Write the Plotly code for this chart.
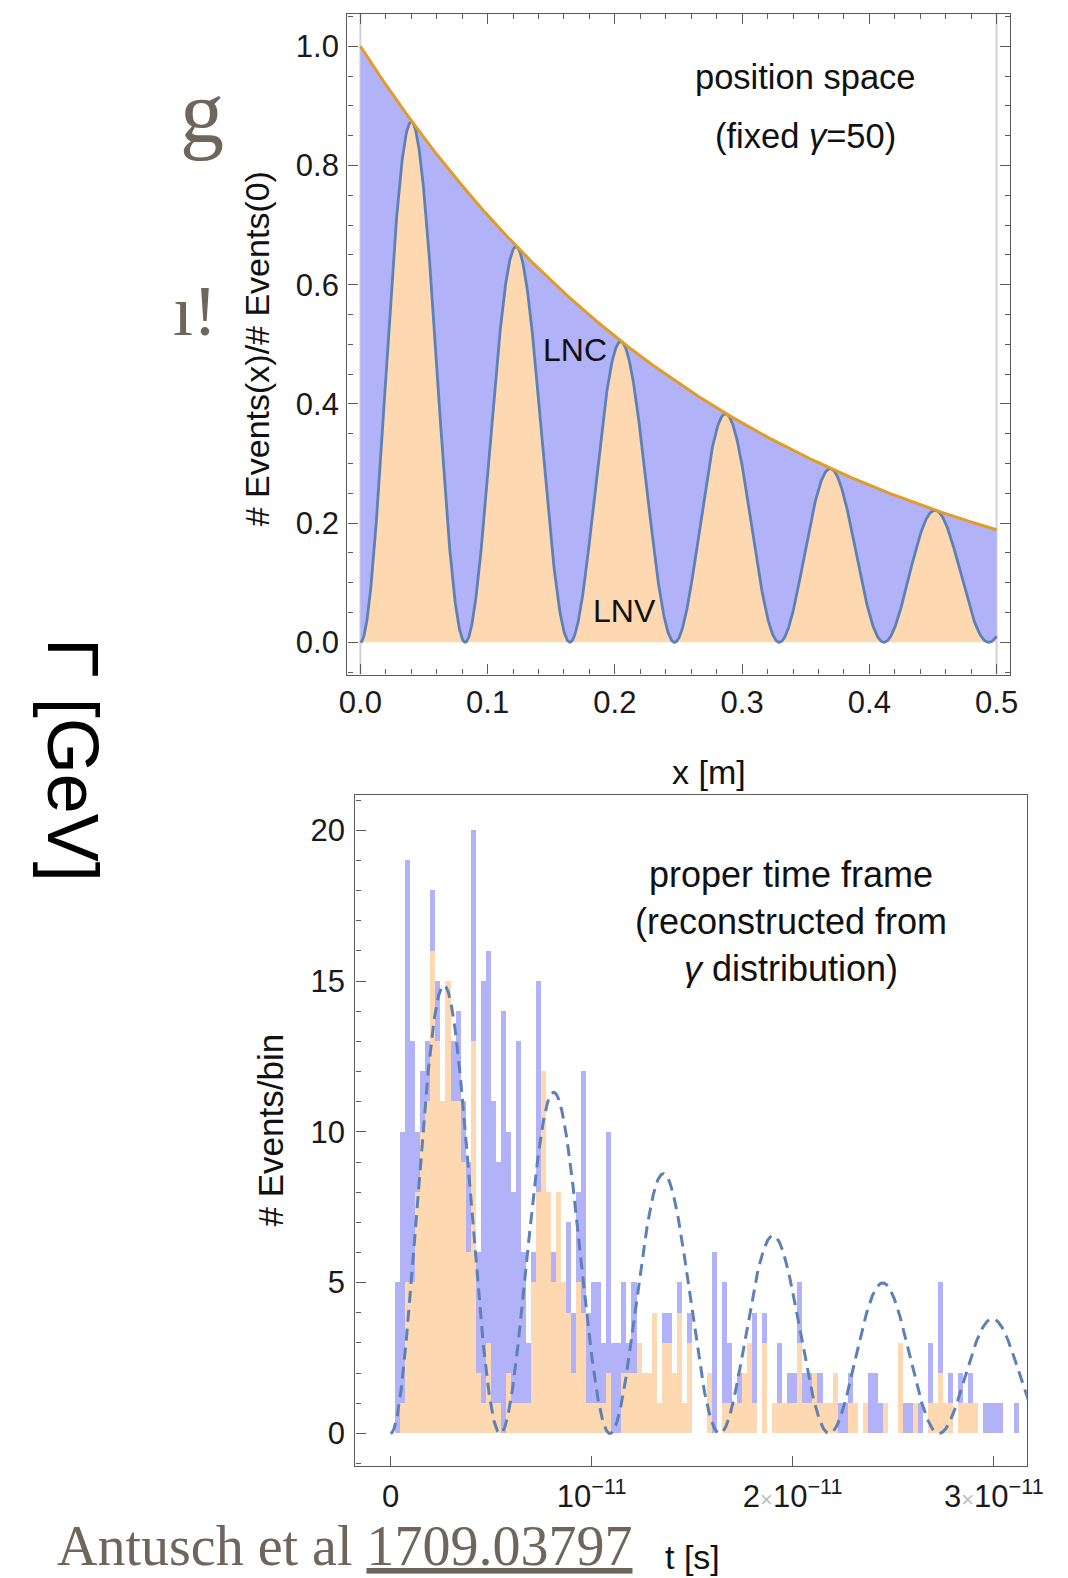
import numpy as np
import plotly.graph_objects as go

W, H = 1068, 1578

# ---------------- position-space panel (fixed gamma = 50) ----------------
pos_norm = 1.0            # # Events(0)
pos_decay_length = 0.30   # m, exponential fall-off of all events
pos_osc_period = 0.0823   # m, LNV <-> LNC oscillation length
pos_x_max = 0.5
pos_xticks = [0.0, 0.1, 0.2, 0.3, 0.4, 0.5]
pos_xtick_labels = ["0.0", "0.1", "0.2", "0.3", "0.4", "0.5"]
pos_yticks = [0.0, 0.2, 0.4, 0.6, 0.8, 1.0]
pos_ytick_labels = ["0.0", "0.2", "0.4", "0.6", "0.8", "1.0"]

# ---------------- proper-time panel (histograms) ----------------
bin_width = 2.5e-13  # s
lnc_counts = [
    0, 5, 10, 19, 13, 10, 12, 13, 18, 15,
    11, 15, 13, 14, 11, 9, 20, 6, 15, 16,
    11, 9, 14, 10, 8, 13, 6, 3, 6, 15,
    8, 7, 6, 8, 5, 7, 4, 8, 12, 4,
    5, 5, 3, 10, 3, 3, 5, 3, 5, 3,
    2, 2, 4, 1, 4, 4, 2, 5, 1, 4,
    0, 0, 0, 2, 6, 0, 5, 3, 1, 2,
    2, 3, 4, 0, 4, 0, 1, 3, 1, 2,
    2, 5, 2, 2, 1, 2, 1, 1, 1, 1,
    1, 2, 1, 0, 0, 2, 2, 1, 1, 0,
    0, 1, 1, 1, 1, 1, 0, 3, 1, 5,
    1, 2, 0, 2, 1, 2, 1, 0, 1, 1,
    1, 1, 0, 0, 1, 0,
]
lnv_counts = [
    0, 0, 1, 5, 5, 8, 10, 11, 16, 13,
    11, 15, 11, 11, 9, 6, 13, 2, 1, 3,
    1, 1, 0, 2, 1, 1, 1, 1, 5, 8,
    12, 8, 5, 8, 5, 4, 2, 5, 4, 1,
    1, 1, 1, 2, 0, 0, 2, 2, 2, 3,
    2, 2, 4, 1, 3, 3, 2, 4, 1, 3,
    0, 0, 0, 2, 0, 0, 1, 1, 1, 1,
    2, 3, 1, 0, 3, 0, 1, 1, 1, 1,
    1, 3, 1, 1, 2, 1, 1, 1, 2, 0,
    0, 1, 1, 0, 1, 0, 0, 0, 1, 0,
    0, 3, 0, 0, 1, 0, 0, 1, 1, 2,
    1, 1, 0, 1, 1, 1, 1, 0, 0, 0,
    0, 0, 0, 0, 0, 0,
]
# expected LNV rate in the proper-time frame
osc_amplitude = 17.0
osc_decay_time = 2.0e-11   # s
osc_period = 0.5455e-11    # s
t_max = 3.2e-11
time_ticks = [0.0, 1e-11, 2e-11, 3e-11]
time_tick_labels = [
    "0",
    "10<sup>\u221211</sup>",
    "2<span style='color:#bdbdbd;font-size:22px'>\u00d7</span>10<sup>\u221211</sup>",
    "3<span style='color:#bdbdbd;font-size:22px'>\u00d7</span>10<sup>\u221211</sup>",
]
count_ticks = [0, 5, 10, 15, 20]
count_tick_labels = ["0", "5", "10", "15", "20"]

# ---------------- styling ----------------
FONT = "Liberation Sans, Arial, sans-serif"
SERIF = "Liberation Serif, Times New Roman, serif"
LINE_BLUE = "#5e81b5"
LINE_ORANGE = "#e09c24"
FILL_BLUE = "#b2b2f9"
FILL_ORANGE = "#fed8b0"
FRAME = "#5a5a5a"
TICK_TXT = "#1a1a1a"


def fx(px):
    return px / W


def fy(py):
    return 1 - py / H


# curves of the position-space panel
x_pos = np.linspace(0.0, pos_x_max, 1501)
all_events = pos_norm * np.exp(-x_pos / pos_decay_length)
lnv_events = all_events * np.sin(np.pi * x_pos / pos_osc_period) ** 2

# expected curve of the proper-time panel
t_vals = np.linspace(0.0, t_max, 1501)
lnv_rate = osc_amplitude * np.exp(-t_vals / osc_decay_time) * np.sin(np.pi * t_vals / osc_period) ** 2

bin_centers = (np.arange(len(lnc_counts)) + 0.5) * bin_width

fig = go.Figure()

# --- position space: LNV below the oscillating curve, LNC between it and the envelope
fig.add_trace(go.Scatter(x=x_pos, y=lnv_events, mode="lines", line=dict(width=0),
                         fill="tozeroy", fillcolor=FILL_ORANGE, hoverinfo="skip",
                         showlegend=False, xaxis="x", yaxis="y"))
fig.add_trace(go.Scatter(x=x_pos, y=all_events, mode="lines", line=dict(width=0),
                         fill="tonexty", fillcolor=FILL_BLUE, hoverinfo="skip",
                         showlegend=False, xaxis="x", yaxis="y"))
fig.add_trace(go.Scatter(x=x_pos, y=lnv_events, mode="lines",
                         line=dict(color=LINE_BLUE, width=2.8),
                         showlegend=False, xaxis="x", yaxis="y"))
fig.add_trace(go.Scatter(x=x_pos, y=all_events, mode="lines",
                         line=dict(color=LINE_ORANGE, width=3),
                         showlegend=False, xaxis="x", yaxis="y"))

# --- proper time: LNC histogram behind, LNV histogram in front
fig.add_trace(go.Bar(x=bin_centers, y=lnc_counts, width=bin_width,
                     marker=dict(color=FILL_BLUE, line=dict(width=0)),
                     showlegend=False, xaxis="x2", yaxis="y2"))
fig.add_trace(go.Bar(x=bin_centers, y=lnv_counts, width=bin_width,
                     marker=dict(color=FILL_ORANGE, line=dict(width=0)),
                     showlegend=False, xaxis="x2", yaxis="y2"))
fig.add_trace(go.Scatter(x=t_vals, y=lnv_rate, mode="lines",
                         line=dict(color=LINE_BLUE, width=3, dash="12px,7px"),
                         showlegend=False, xaxis="x2", yaxis="y2"))

axis_common = dict(
    automargin=False,
    showgrid=False, zeroline=False, showline=True, linecolor=FRAME, linewidth=1.4,
    ticks="inside", tickcolor=FRAME, tickwidth=1.2, ticklen=10,
    tickfont=dict(family=FONT, size=31, color=TICK_TXT),
)

fig.update_layout(
    width=W, height=H,
    margin=dict(l=0, r=0, t=0, b=0, pad=0),
    paper_bgcolor="white", plot_bgcolor="white",
    barmode="overlay", bargap=0,
    xaxis=dict(
        domain=[fx(347.3), fx(1009.7)], anchor="y",
        range=[-0.0103, 0.5103],
        tickvals=pos_xticks, ticktext=pos_xtick_labels,
        mirror="ticks", ticklabelstandoff=0,
        minor=dict(ticks="inside", ticklen=5, dtick=0.02, tickcolor=FRAME, tickwidth=1.0, showgrid=False),
        **axis_common,
    ),
    yaxis=dict(
        domain=[fy(674.5), fy(14.1)], anchor="x",
        range=[-0.054, 1.054],
        tickvals=pos_yticks, ticktext=pos_ytick_labels,
        mirror="ticks", ticklabelstandoff=1,
        minor=dict(ticks="inside", ticklen=5, dtick=0.05, tickcolor=FRAME, tickwidth=1.0, showgrid=False),
        **axis_common,
    ),
    xaxis2=dict(
        domain=[fx(355.4), fx(1026.8)], anchor="y2",
        range=[-0.175e-11, 3.164e-11],
        tickvals=time_ticks, ticktext=time_tick_labels,
        mirror=True, ticklabelstandoff=3,
        **axis_common,
    ),
    yaxis2=dict(
        domain=[fy(1465.7), fy(795.3)], anchor="x2",
        range=[-1.07, 21.16],
        tickvals=count_ticks, ticktext=count_tick_labels,
        mirror=True, ticklabelstandoff=3,
        minor=dict(ticks="inside", ticklen=5, dtick=1, tickcolor=FRAME, tickwidth=1.0, showgrid=False),
        **axis_common,
    ),
)

# faint boundary lines of the filled region
for xv in (0.0, pos_x_max):
    fig.add_shape(type="line", xref="x", yref="y domain", x0=xv, x1=xv, y0=0, y1=1,
                  line=dict(color="#d4d4d4", width=2), layer="below")


def note(text, px, py, size, color="#111111", family=FONT, angle=0, xanchor="center"):
    fig.add_annotation(text=text, x=fx(px), y=fy(py), xref="paper", yref="paper",
                       showarrow=False, xanchor=xanchor, yanchor="middle",
                       textangle=angle, font=dict(family=family, size=size, color=color))


# panel labels
note("position space", 805.3, 77.5, 34.5)
note("(fixed <i>\u03b3</i>=50)", 805.3, 136.0, 34.5)
note("LNC", 574.8, 350.3, 32)
note("LNV", 624.1, 611.0, 32)
note("proper time frame<br>(reconstructed from<br><i>\u03b3</i> distribution)", 791.2, 921.0, 36)

# axis titles
note("x [m]", 708.7, 772.1, 34)
note("# Events(x)/# Events(0)", 257.0, 349.3, 34, angle=-90)
note("# Events/bin", 270.0, 1130.5, 35, angle=-90)
note("t [s]", 692.0, 1557.0, 34)

# surrounding slide text
SLIDE = "#6f665b"
note("g", 202.3, 112.0, 88, color=SLIDE, family=SERIF)
note("\u0131!", 195.0, 311.0, 72, color=SLIDE, family=SERIF)
note("\u0393 [GeV]", 73.0, 760.0, 72, color="#000000", angle=90)
note("Antusch et al <u>1709.03797</u>", 55.0, 1546.0, 56, color=SLIDE, family=SERIF, xanchor="left")

fig.write_html("out.html")
